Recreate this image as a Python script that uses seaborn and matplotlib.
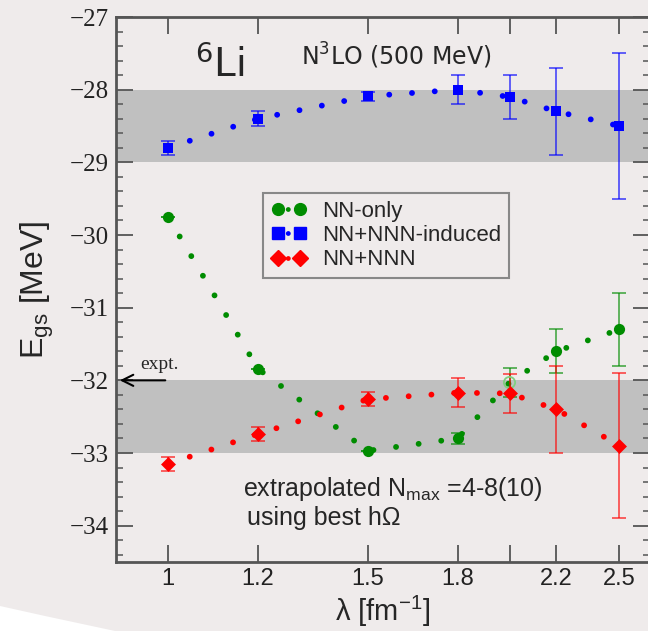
import matplotlib
matplotlib.use("Agg")
import matplotlib.pyplot as plt
import matplotlib.transforms as mtransforms
from matplotlib.lines import Line2D
from matplotlib.patches import Polygon
from matplotlib.ticker import MultipleLocator, NullLocator, FixedLocator, FixedFormatter
import seaborn as sns

# lambda values (fm^-1) and ground state energies (MeV)
lam = [1.0, 1.2, 1.5, 1.8, 2.0, 2.2, 2.5]
nn_only = [-29.75, -31.84, -32.97, -32.80, -32.03, -31.60, -31.30]
nn_only_err = [0.0, 0.0, 0.0, 0.08, 0.2, 0.3, 0.5]
nn_only_open = [False, False, False, False, True, False, False]
nnn_ind = [-28.80, -28.40, -28.09, -28.00, -28.10, -28.30, -28.50]
nnn_ind_err = [0.1, 0.1, 0.06, 0.2, 0.3, 0.6, 1.0]
nnn = [-33.15, -32.74, -32.26, -32.17, -32.18, -32.40, -32.90]
nnn_err = [0.1, 0.1, 0.1, 0.2, 0.27, 0.6, 1.0]
bands = [(-29.0, -28.0), (-33.0, -32.0)]
expt = -32.0
xticks = [1.0, 1.2, 1.5, 1.8, 2.0, 2.2, 2.5]
xtick_labels = ["1", "1.2", "1.5", "1.8", "", "2.2", "2.5"]

bg = "#efebeb"
sns.set_style("ticks")
plt.rcParams["font.family"] = ["Liberation Sans", "DejaVu Sans"]

fig = plt.figure(figsize=(6.48, 6.31), dpi=100, facecolor=bg)
ax = fig.add_axes([116 / 648, 69 / 631, 534 / 648, 545 / 631])
ax.set_facecolor(bg)
ax.set_xscale("log")
ax.set_xlim(0.8997, 2.66)
ax.set_ylim(-34.5, -27.0)

for lo, hi in bands:
    ax.axhspan(lo, hi, color="#c0c0c0", lw=0, zorder=0)

dots = (0, (0.01, 3.9))
series = [
    (nn_only, nn_only_err, "#008c00", "o", 65, "NN-only"),
    (nnn_ind, nnn_ind_err, "#0000ff", "s", 58, "NN+NNN-induced"),
    (nnn, nnn_err, "#ff0000", "D", 58, "NN+NNN"),
]
handles = []
for vals, errs, col, mk, sz, lab in series:
    sns.lineplot(x=lam, y=vals, ax=ax, color=col, lw=4.2, linestyle=dots,
                 dash_capstyle="round", sort=False, estimator=None, zorder=2)
    ax.errorbar(lam, vals, yerr=errs, fmt="none", ecolor=col, elinewidth=1.4,
                capsize=5, capthick=1.4, alpha=0.6, zorder=3)
    if vals is nn_only:
        filled = [not o for o in nn_only_open]
        xs_f = [x for x, f in zip(lam, filled) if f]
        ys_f = [y for y, f in zip(vals, filled) if f]
        xs_o = [x for x, f in zip(lam, filled) if not f]
        ys_o = [y for y, f in zip(vals, filled) if not f]
        sns.scatterplot(x=xs_f, y=ys_f, ax=ax, color=col, marker=mk, s=sz,
                        edgecolor=col, linewidth=0, zorder=4)
        ax.scatter(xs_o, ys_o, s=sz, facecolors="none", edgecolors="#7fd07f",
                   linewidths=1.3, zorder=4)
    else:
        sns.scatterplot(x=lam, y=vals, ax=ax, color=col, marker=mk, s=sz,
                        edgecolor=col, linewidth=0, zorder=4)
    handles.append(Line2D([0], [0], color=col, marker=mk, markersize=8.5, lw=3.5,
                          linestyle=(0, (0.01, 2.0)), dash_capstyle="round",
                          label=lab))

# axes styling
ax.xaxis.set_major_locator(FixedLocator(xticks))
ax.xaxis.set_major_formatter(FixedFormatter(xtick_labels))
ax.xaxis.set_minor_locator(NullLocator())
ax.yaxis.set_major_locator(MultipleLocator(1))
ax.yaxis.set_minor_locator(MultipleLocator(0.2))
ax.yaxis.set_major_formatter(matplotlib.ticker.FuncFormatter(lambda v, p: f"\u2212{abs(v):.0f}"))
ax.tick_params(which="both", direction="in", top=True, right=True, color="#555555")
ax.tick_params(which="major", length=12, width=1.3)
ax.tick_params(which="minor", length=5, width=1.1)
ax.tick_params(axis="x", labelsize=17, pad=4, labelcolor="#222222")
ax.tick_params(axis="y", labelsize=18, pad=5, labelcolor="#222222")
for t in ax.get_yticklabels():
    t.set_family("Liberation Serif")
for sp in ax.spines.values():
    sp.set_color("#555555")
    sp.set_linewidth(2)

ax.set_xlabel(r"λ [fm$^{\mathregular{-1}}$]", fontsize=21)
ax.xaxis.set_label_coords(0.5, -0.058)
ax.set_ylabel(r"E$_{\mathregular{gs}}$ [MeV]", fontsize=23)
ax.yaxis.set_label_coords(-0.112, 0.5)

# annotations
ax.text(0.148, 0.89, r"$^{\mathregular{6}}$Li", transform=ax.transAxes,
        fontsize=28, family="DejaVu Sans")
ax.text(0.346, 0.912, r"N$^{\mathregular{3}}$LO (500 MeV)", transform=ax.transAxes,
        fontsize=17, family="DejaVu Sans")
trans = mtransforms.blended_transform_factory(ax.transAxes, ax.transData)
ax.annotate("", xy=(0.002, expt), xycoords=trans, xytext=(1.0, expt),
            textcoords="data",
            arrowprops=dict(arrowstyle="->", color="black", lw=1.5, mutation_scale=20))
ax.text(0.945, expt + 0.15, "expt.", fontsize=14, family="Liberation Serif")
ax.text(0.237, 0.122, "extrapolated N$_{\\mathregular{max}}$ =4-8(10)",
        transform=ax.transAxes, fontsize=18)
ax.text(0.246, 0.068, "using best hΩ", transform=ax.transAxes, fontsize=18)

leg = ax.legend(handles=handles, loc="upper left", bbox_to_anchor=(0.276, 0.677),
                numpoints=2, fontsize=16, frameon=True, fancybox=False,
                handlelength=1.6, handletextpad=0.7, labelspacing=0.15,
                borderpad=0.35, borderaxespad=0)
leg.get_frame().set_edgecolor("#888888")
leg.get_frame().set_facecolor(bg)
leg.get_frame().set_linewidth(1.5)
leg.get_frame().set_alpha(1)

# white wedge in the lower-left corner
fig.patches.append(Polygon([(0, 1 - 606 / 631), (45 / 648, 1 - 616 / 631),
                            (115 / 648, 0), (0, 0)], closed=True,
                           transform=fig.transFigure, facecolor="white",
                           edgecolor="none", zorder=0))

fig.savefig("out.png", dpi=100, facecolor=bg)
